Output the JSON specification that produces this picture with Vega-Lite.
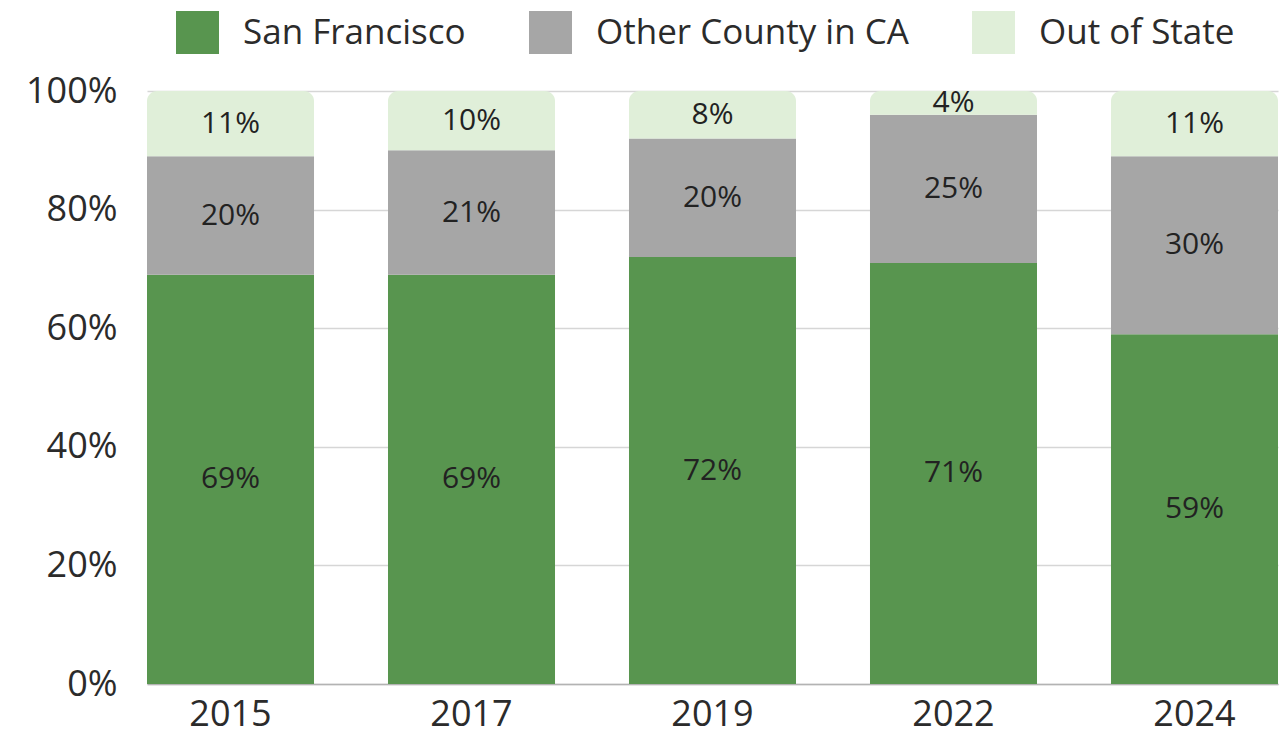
{
  "$schema": "https://vega.github.io/schema/vega-lite/v6.json",
  "width": 1131,
  "height": 593,
  "autosize": {"type": "none"},
  "padding": {"left": 147, "top": 91, "right": 3, "bottom": 51},
  "background": "#ffffff",
  "config": {
    "font": "Open Sans",
    "view": {"stroke": null},
    "axis": {"labelFont": "Open Sans", "labelColor": "#2b2b2b", "labelFontSize": 36, "title": null}
  },
  "data": {
    "values": [
      {"year": "2015", "origin": "San Francisco", "pct": 69},
      {"year": "2015", "origin": "Other County in CA", "pct": 20},
      {"year": "2015", "origin": "Out of State", "pct": 11},
      {"year": "2017", "origin": "San Francisco", "pct": 69},
      {"year": "2017", "origin": "Other County in CA", "pct": 21},
      {"year": "2017", "origin": "Out of State", "pct": 10},
      {"year": "2019", "origin": "San Francisco", "pct": 72},
      {"year": "2019", "origin": "Other County in CA", "pct": 20},
      {"year": "2019", "origin": "Out of State", "pct": 8},
      {"year": "2022", "origin": "San Francisco", "pct": 71},
      {"year": "2022", "origin": "Other County in CA", "pct": 25},
      {"year": "2022", "origin": "Out of State", "pct": 4},
      {"year": "2024", "origin": "San Francisco", "pct": 59},
      {"year": "2024", "origin": "Other County in CA", "pct": 30},
      {"year": "2024", "origin": "Out of State", "pct": 11}
    ]
  },
  "transform": [
    {"calculate": "indexof(['San Francisco','Other County in CA','Out of State'], datum.origin)", "as": "ord"},
    {"stack": "pct", "groupby": ["year"], "sort": [{"field": "ord", "order": "ascending"}], "as": ["y0", "y1"]},
    {"calculate": "(datum.y0 + datum.y1) / 2", "as": "mid"},
    {"calculate": "datum.pct + '%'", "as": "label"}
  ],
  "encoding": {
    "x": {
      "field": "year",
      "type": "nominal",
      "scale": {"paddingInner": 0.307, "paddingOuter": 0},
      "axis": {"labelAngle": 0, "ticks": false, "domain": true, "domainColor": "#b3b3b3", "domainWidth": 1.5, "labelPadding": 13, "grid": false}
    }
  },
  "layer": [
    {
      "transform": [{"filter": "datum.origin !== 'Out of State'"}],
      "mark": {"type": "bar"},
      "encoding": {
        "y": {
          "field": "y1",
          "type": "quantitative",
          "scale": {"domain": [0, 100], "nice": false},
          "axis": {
            "values": [0, 20, 40, 60, 80, 100],
            "labelExpr": "datum.value + '%'",
            "ticks": false,
            "domain": false,
            "grid": true,
            "gridColor": "#d6d6d6",
            "gridWidth": 1.5,
            "labelPadding": 30
          }
        },
        "y2": {"field": "y0"},
        "color": {
          "field": "origin",
          "type": "nominal",
          "scale": {
            "domain": ["San Francisco", "Other County in CA", "Out of State"],
            "range": ["#58954f", "#a6a6a6", "#e0efd9"]
          },
          "legend": {
            "title": null,
            "orient": "none",
            "legendX": 29,
            "legendY": -80,
            "direction": "horizontal",
            "symbolType": "square",
            "symbolSize": 1849,
            "symbolStrokeWidth": 0,
            "labelFont": "Open Sans",
            "labelFontSize": 35,
            "labelColor": "#2b2b2b",
            "labelOffset": 24,
            "columnPadding": 63,
            "labelLimit": 500
          }
        }
      }
    },
    {
      "transform": [{"filter": "datum.origin === 'Out of State'"}],
      "mark": {"type": "bar", "cornerRadiusTopLeft": 10, "cornerRadiusTopRight": 10},
      "encoding": {
        "y": {"field": "y1", "type": "quantitative"},
        "y2": {"field": "y0"},
        "color": {"field": "origin", "type": "nominal"}
      }
    },
    {
      "mark": {"type": "text", "fontSize": 30, "font": "Open Sans", "color": "#222222", "baseline": "middle"},
      "encoding": {
        "y": {"field": "mid", "type": "quantitative"},
        "text": {"field": "label"}
      }
    }
  ]
}
